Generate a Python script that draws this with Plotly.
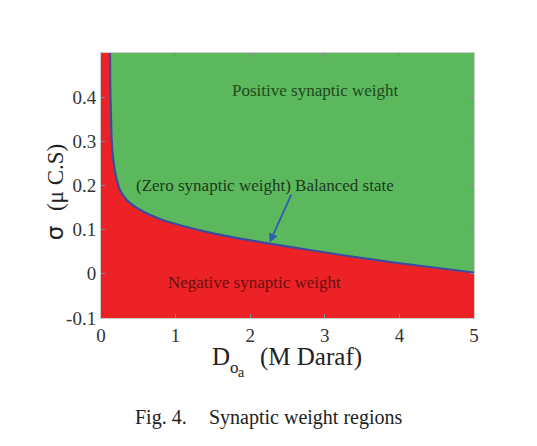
import plotly.graph_objects as go

# boundary between positive and negative synaptic weight
d_oa = [0.12, 0.125, 0.135, 0.143, 0.165, 0.21, 0.255, 0.344, 0.523, 0.79,
        1.06, 1.55, 2.24, 2.8, 3.29, 4.0, 5.0]
sigma = [0.50, 0.42, 0.35, 0.303, 0.258, 0.213, 0.190, 0.167, 0.145, 0.124,
         0.110, 0.090, 0.069, 0.054, 0.041, 0.024, 0.003]

y_top = 0.5
y_bottom = -0.1
x_ticks = [0, 1, 2, 3, 4, 5]
y_ticks = [-0.1, 0, 0.1, 0.2, 0.3, 0.4]
y_ticktext = ["-0.1", "0", "0.1", "0.2", "0.3", "0.4"]

green = "#5cb85c"
red = "#ec2227"
serif = "Liberation Serif"

fig = go.Figure()

# upper edge, used as the fill target of the green region
fig.add_trace(go.Scatter(x=d_oa, y=[y_top] * len(d_oa), mode="lines",
                         line=dict(width=0, color=green), hoverinfo="skip"))
fig.add_trace(go.Scatter(x=d_oa, y=sigma, mode="lines", fill="tonexty",
                         fillcolor=green,
                         line=dict(color="#3b4ba0", width=2.2, shape="spline", smoothing=0.8),
                         hoverinfo="skip"))

text_font = dict(family=serif, size=17)
fig.add_annotation(x=2.87, y=0.414, text="Positive synaptic weight", showarrow=False,
                   font=dict(text_font, color="#1d4a1d"))
fig.add_annotation(x=2.2, y=0.201, text="(Zero synaptic weight) Balanced state", showarrow=False,
                   font=dict(text_font, color="#1d3a1d"))
fig.add_annotation(x=2.06, y=-0.02, text="Negative synaptic weight", showarrow=False,
                   font=dict(text_font, color="#6a1010"))
# arrow pointing to the boundary
fig.add_annotation(x=2.26, y=0.071, ax=2.56, ay=0.183, xref="x", yref="y", axref="x", ayref="y",
                   text="", showarrow=True, arrowhead=2, arrowsize=1, arrowwidth=1.8,
                   arrowcolor="#2f5db0")


def paper_text(x, y, text, size, family=serif, xanchor="center", angle=0):
    fig.add_annotation(xref="paper", yref="paper", x=x, y=y, text=text, showarrow=False,
                       xanchor=xanchor, yanchor="middle", textangle=angle,
                       font=dict(family=family, size=size, color="#222"))


# axis titles
paper_text(-0.123, 0.475, "σ  <span style='font-family:Liberation Serif'>(μ C.S)</span>",
           23, family="DejaVu Sans", angle=-90)
paper_text(0.323, -0.147, "D", 25)
paper_text(0.358, -0.185, "o", 17)
paper_text(0.377, -0.205, "a", 14)
paper_text(0.564, -0.147, "(M Daraf)", 25)
# caption
paper_text(0.0858, -0.374, "Fig. 4.", 20, xanchor="left")
paper_text(0.284, -0.374, "Synaptic weight regions", 20, xanchor="left")

fig.update_layout(
    width=529, height=438,
    margin=dict(l=93, r=63, t=45, b=128),
    paper_bgcolor="white",
    plot_bgcolor=red,
    showlegend=False,
    font=dict(family=serif, size=19, color="#333"),
)
fig.update_xaxes(range=[0, 5], tickvals=x_ticks, ticks="inside", ticklen=4, tickcolor="#888",
                 showgrid=False, zeroline=False, showline=True, linecolor="#cccccc", mirror="ticks")
fig.update_yaxes(range=[y_bottom, y_top], tickvals=y_ticks, ticktext=y_ticktext, ticks="inside",
                 ticklen=4, tickcolor="#888", showgrid=False, zeroline=False, showline=True,
                 linecolor="#cccccc", mirror="ticks")

fig.write_html("out.html")
